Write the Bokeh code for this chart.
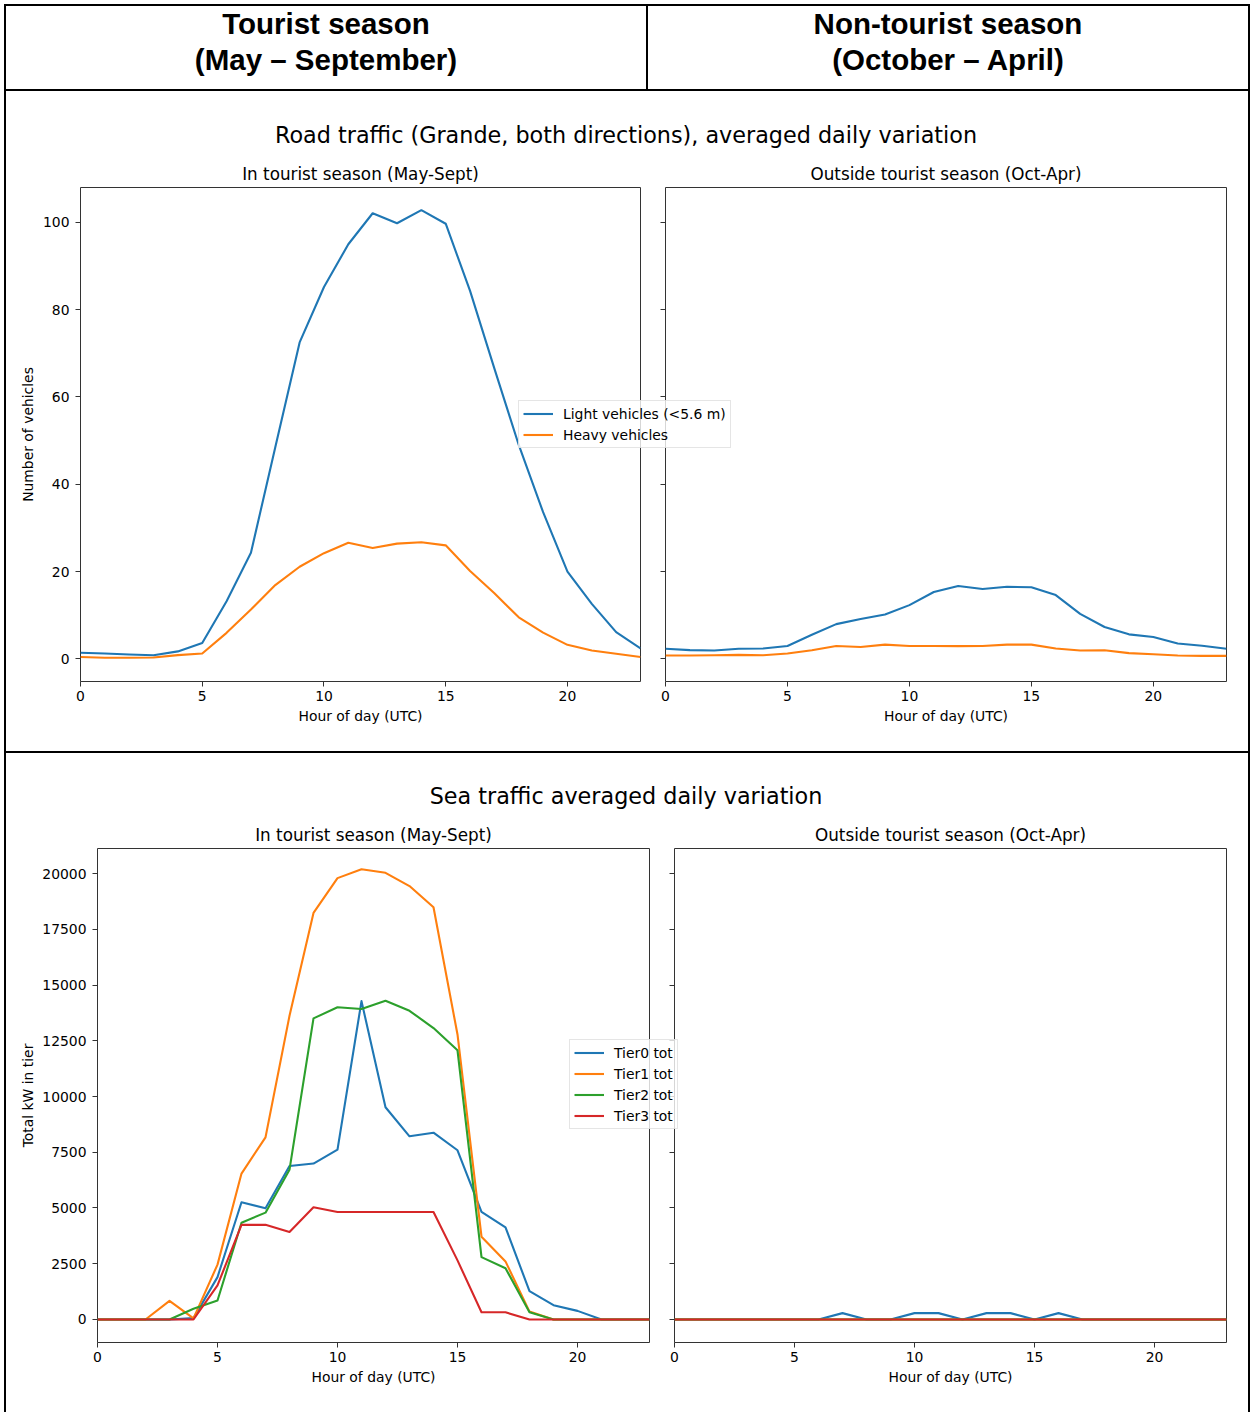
from bokeh.plotting import figure
from bokeh.models import Range1d, FixedTicker, Legend, LegendItem, Div
from bokeh.layouts import column
from bokeh.embed import file_html
from bokeh.resources import INLINE

# ---------------- data ----------------
hours = list(range(24))
x_ticks = [0, 5, 10, 15, 20]

road_in_light = [1.4, 1.2, 1.0, 0.8, 1.7, 3.6, 13.2, 24.3, 48.5, 72.5, 85.2, 95.0,
                 102.1, 99.8, 102.8, 99.7, 84.3, 66.5, 49.0, 33.6, 20.0, 12.6, 6.1, 2.4]
road_in_heavy = [0.4, 0.25, 0.25, 0.3, 0.85, 1.2, 5.95, 11.3, 16.9, 21.1, 24.2, 26.6,
                 25.4, 26.4, 26.7, 26.0, 20.1, 15.0, 9.5, 6.0, 3.2, 1.9, 1.15, 0.4]
road_off_light = [2.3, 2.0, 1.9, 2.3, 2.35, 2.95, 5.5, 7.95, 9.1, 10.15, 12.3, 15.3,
                  16.7, 16.0, 16.5, 16.4, 14.6, 10.3, 7.3, 5.6, 5.0, 3.5, 3.0, 2.3]
road_off_heavy = [0.76, 0.76, 0.83, 0.9, 0.83, 1.2, 1.97, 2.95, 2.7, 3.25, 2.95, 2.95,
                  2.9, 2.95, 3.25, 3.25, 2.35, 1.9, 1.97, 1.3, 1.06, 0.76, 0.68, 0.68]
road_labels = ["Light vehicles (<5.6 m)", "Heavy vehicles"]
road_yticks = [0, 20, 40, 60, 80, 100]

sea_in_tier0 = [0, 0, 0, 0, 60, 1900, 5257, 4984, 6881, 6994, 7621, 14277,
                9518, 8215, 8376, 7589, 4823, 4132, 1270, 643, 386, 0, 0, 0]
sea_in_tier1 = [0, 0, 0, 836, 50, 2460, 6544, 8168, 13618, 18232, 19793, 20193,
                20032, 19437, 18489, 12781, 3714, 2605, 354, 0, 0, 0, 0, 0]
sea_in_tier2 = [0, 0, 0, 0, 482, 852, 4341, 4791, 6720, 13505, 14003, 13923,
                14293, 13843, 13071, 12074, 2797, 2299, 322, 0, 0, 0, 0, 0]
sea_in_tier3 = [0, 0, 0, 0, 0, 1527, 4244, 4244, 3923, 5032, 4823, 4823,
                4823, 4823, 4823, 2650, 322, 322, 0, 0, 0, 0, 0, 0]
sea_off_tier0 = [0, 0, 0, 0, 0, 0, 0, 285, 0, 0, 285, 285,
                 0, 285, 285, 0, 285, 0, 0, 0, 0, 0, 0, 0]
sea_off_tier1 = [0] * 24
sea_off_tier2 = [0] * 24
sea_off_tier3 = [0] * 24
sea_labels = ["Tier0 tot", "Tier1 tot", "Tier2 tot", "Tier3 tot"]
sea_yticks = [0, 2500, 5000, 7500, 10000, 12500, 15000, 17500, 20000]

colors = ["#1f77b4", "#ff7f0e", "#2ca02c", "#d62728"]

# ---------------- styling helpers ----------------
FONT = "DejaVu Sans"
TICK_PX = "13.9px"
SPINE = "#333333"
# every figure shares the same border sizes (columns align plot frames)
MB_LEFT, MB_RIGHT, MB_TOP, MB_BOTTOM = 92, 20, 87, 64


def abs_style(left, top):
    return {"position": "absolute", "left": f"{left}px", "top": f"{top}px"}


def make_fig(frame_left, frame_top, frame_w, frame_h, y_range, title,
             y_label, y_ticks, show_ylabels, ylabel_standoff):
    p = figure(width=MB_LEFT + frame_w + MB_RIGHT, height=MB_TOP + frame_h + MB_BOTTOM,
               x_range=Range1d(0, 23), y_range=y_range,
               output_backend="svg", toolbar_location=None,
               min_border_left=MB_LEFT, min_border_right=MB_RIGHT,
               min_border_top=MB_TOP, min_border_bottom=MB_BOTTOM,
               styles=abs_style(frame_left - MB_LEFT, frame_top - MB_TOP))
    p.margin = 0
    p.border_fill_alpha = 0
    p.background_fill_color = "white"
    p.background_fill_alpha = 0
    p.outline_line_color = SPINE
    p.outline_line_width = 1
    p.grid.visible = False

    p.title.text = title
    p.title.align = "center"
    p.title.text_font = FONT
    p.title.text_font_size = "16.8px"
    p.title.text_font_style = "normal"
    p.title.text_color = "black"
    p.title.standoff = 8

    for ax in (p.xaxis[0], p.yaxis[0]):
        ax.axis_line_color = None
        ax.major_tick_line_color = SPINE
        ax.major_tick_out = 5
        ax.major_tick_in = 0
        ax.minor_tick_line_color = None
        ax.major_label_text_font = FONT
        ax.major_label_text_font_size = TICK_PX
        ax.major_label_text_color = "black"
        ax.axis_label_text_font = FONT
        ax.axis_label_text_font_size = TICK_PX
        ax.axis_label_text_font_style = "normal"
        ax.axis_label_text_color = "black"

    p.xaxis.ticker = FixedTicker(ticks=x_ticks)
    p.xaxis.axis_label = "Hour of day (UTC)"
    p.xaxis.major_label_standoff = 4
    p.xaxis.axis_label_standoff = 4

    p.yaxis.ticker = FixedTicker(ticks=y_ticks)
    p.yaxis.major_label_standoff = 6
    if show_ylabels:
        p.yaxis.axis_label = y_label
        p.yaxis.axis_label_standoff = ylabel_standoff
    else:
        p.yaxis.major_label_text_color = None
    return p


def add_lines(p, series):
    return [p.line(hours, vals, line_color=c, line_width=2.1, line_join="round")
            for vals, c in zip(series, colors)]


def make_legend_fig(box_left, box_top, series, labels):
    """A small overlay figure that only shows the legend (so it can overlap
    the neighbouring panel like the reference); its lines fall outside its
    own y range and are therefore not drawn."""
    fw, fh = 250, 100
    p = figure(width=MB_LEFT + fw + MB_RIGHT, height=MB_TOP + fh + MB_BOTTOM,
               x_range=Range1d(0, 23), y_range=Range1d(-2, -1),
               x_axis_location=None, y_axis_location=None, title=None,
               output_backend="svg", toolbar_location=None,
               min_border_left=MB_LEFT, min_border_right=MB_RIGHT,
               min_border_top=MB_TOP, min_border_bottom=MB_BOTTOM,
               styles=abs_style(box_left - MB_LEFT, box_top - MB_TOP))
    p.margin = 0
    p.border_fill_alpha = 0
    p.background_fill_alpha = 0
    p.outline_line_color = None
    p.grid.visible = False
    rs = add_lines(p, series)
    lg = Legend(items=[LegendItem(label=l, renderers=[r]) for l, r in zip(labels, rs)],
                location="top_left")
    lg.label_text_font = FONT
    lg.label_text_font_size = TICK_PX
    lg.label_text_color = "black"
    lg.border_line_color = "#cccccc"
    lg.border_line_width = 1
    lg.background_fill_color = "white"
    lg.background_fill_alpha = 0.8
    lg.glyph_width = 30
    lg.glyph_height = 17
    lg.label_height = 17
    lg.label_standoff = 10
    lg.spacing = 4
    lg.padding = 4
    lg.margin = 0
    p.add_layout(lg)
    return p


# ---------------- road traffic ----------------
road_y = Range1d(-5.2, 108.0)
road_left = make_fig(80, 187, 560, 494, road_y, "In tourist season (May-Sept)",
                     "Number of vehicles", road_yticks, True, 4)
road_right = make_fig(665, 187, 561, 494, road_y, "Outside tourist season (Oct-Apr)",
                      "", road_yticks, False, 4)
add_lines(road_left, [road_in_light, road_in_heavy])
add_lines(road_right, [road_off_light, road_off_heavy])
road_legend = make_legend_fig(518, 400, [road_in_light, road_in_heavy], road_labels)

# ---------------- sea traffic ----------------
sea_y = Range1d(-1032, 21122)
sea_left = make_fig(97, 848, 552, 494, sea_y, "In tourist season (May-Sept)",
                    "Total kW in tier", sea_yticks, True, 3)
sea_right = make_fig(674, 848, 552, 494, sea_y, "Outside tourist season (Oct-Apr)",
                     "", sea_yticks, False, 3)
add_lines(sea_left, [sea_in_tier0, sea_in_tier1, sea_in_tier2, sea_in_tier3])
add_lines(sea_right, [sea_off_tier0, sea_off_tier1, sea_off_tier2, sea_off_tier3])
sea_legend = make_legend_fig(569, 1039, [sea_in_tier0, sea_in_tier1, sea_in_tier2, sea_in_tier3],
                             sea_labels)

# ---------------- frame / headings (HTML) ----------------
def hline(top, left=4, width=1246):
    return f'<div style="position:absolute;left:{left}px;top:{top}px;width:{width}px;height:2px;background:#000;"></div>'


def vline(left, top, height):
    return f'<div style="position:absolute;left:{left}px;top:{top}px;width:2px;height:{height}px;background:#000;"></div>'


head_style = ("position:absolute;top:6px;text-align:center;font-family:'Liberation Sans',Arial,sans-serif;"
              "font-weight:bold;font-size:29.5px;line-height:36px;color:#000;")
sup_style = ("position:absolute;left:0px;width:1252px;text-align:center;font-family:'DejaVu Sans';"
             "font-size:22.3px;line-height:26px;color:#000;")

bg_html = (
    '<div style="position:relative;width:1252px;height:1412px;">'
    + hline(4) + hline(89) + hline(751)
    + vline(4, 4, 1408) + vline(1248, 4, 1408) + vline(646, 4, 86)
    + f'<div style="{head_style}left:6px;width:640px;">Tourist season<br>(May – September)</div>'
    + f'<div style="{head_style}left:648px;width:600px;">Non-tourist season<br>(October – April)</div>'
    + f'<div style="{sup_style}top:122px;">Road traffic (Grande, both directions), averaged daily variation</div>'
    + f'<div style="{sup_style}top:783px;">Sea traffic averaged daily variation</div>'
    + '</div>'
)
bg = Div(text=bg_html, width=1252, height=1412, margin=0, styles=abs_style(0, 0))

root = column(bg, road_right, road_left, road_legend, sea_right, sea_left, sea_legend,
              width=1252, height=1412, sizing_mode="fixed",
              styles={"position": "relative", "overflow": "hidden"})

open("out.html", "w").write(file_html(root, INLINE))
